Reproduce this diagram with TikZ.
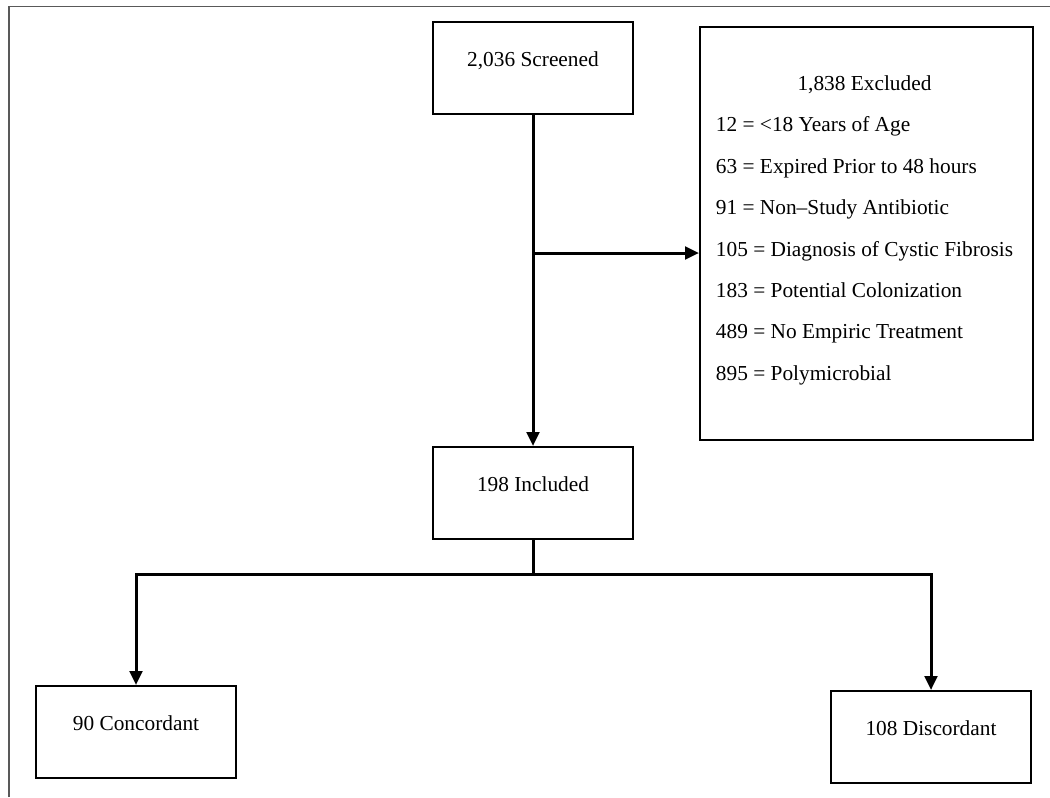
\documentclass[tikz,border=0pt]{standalone}
\usepackage{fontspec}
\setmainfont{Liberation Serif}
\usetikzlibrary{positioning, arrows.meta}

\begin{document}
\begin{tikzpicture}[
  x=0.75pt, y=-0.75pt,
  every node/.style={font=\fontsize{16}{19}\selectfont},
  box/.style={draw, line width=1.5pt, minimum width=150pt, minimum height=69pt,
              text height=11pt, text depth=13pt, inner sep=0pt},
  exclbox/.style={draw, line width=1.5pt, minimum width=249.75pt, minimum height=309.75pt,
                  inner sep=0pt},
  arrow/.style={-{Triangle[length=10.5pt, width=9.5pt]}, line width=2.25pt},
  link/.style={line width=2.25pt},
  frame/.style={draw=black!65, line width=1.2pt},
]
\useasboundingbox (0,0) rectangle (1050,797);

% Frame
\draw[frame] (9,797) -- (9,6.5) -- (1050,6.5);

% Screened
\node[box] (screen) at (533,68) {2,036 Screened};

% Excluded
\node[exclbox] (excl) at (866.5,233.5) {};
\node[inner sep=0pt] (excltext) at (864.5,227)
  {\renewcommand{\arraystretch}{1.637}%
   \begin{tabular}{@{}l@{}}
   \multicolumn{1}{c}{1,838 Excluded}\\
   12 = <18 Years of Age\\
   63 = Expired Prior to 48 hours\\
   91 = Non--Study Antibiotic\\
   105 = Diagnosis of Cystic Fibrosis\\
   183 = Potential Colonization\\
   489 = No Empiric Treatment\\
   895 = Polymicrobial
   \end{tabular}};

% Included
\node[box] (incl) at (533,493) {198 Included};

% Concordant / Discordant
\node[box] (conc) at (136,732) {90 Concordant};
\node[box] (disc) at (931,737) {108 Discordant};

% Arrows
\draw[arrow] (screen) -- (incl);
\coordinate (branch) at (533,253);
\draw[arrow] (branch) -- (branch -| excl.west);

\coordinate (split) at (533,574);
\draw[link] (incl) -- (split);
\draw[arrow] (split) -| (conc.north);
\draw[arrow] (split) -| (disc.north);

\end{tikzpicture}
\end{document}
